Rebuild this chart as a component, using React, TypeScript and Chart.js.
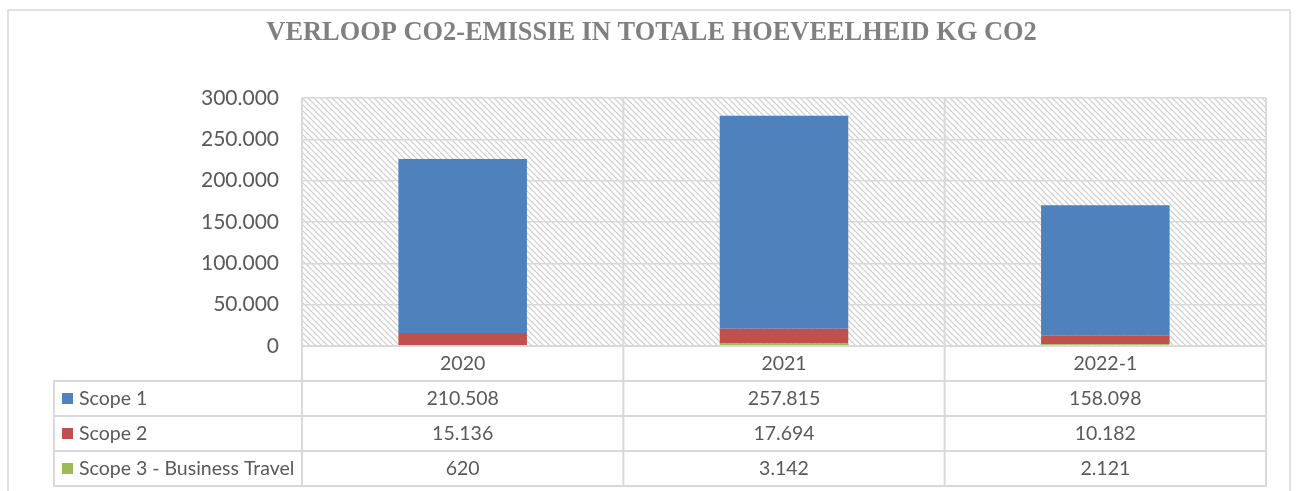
import React, { useEffect, useRef } from 'react';
import { Chart, registerables } from 'chart.js';

Chart.register(...registerables);

const TITLE = 'VERLOOP CO2-EMISSIE IN TOTALE HOEVEELHEID KG CO2';
const categories = ['2020', '2021', '2022-1'];
const seriesNames = ['Scope 1', 'Scope 2', 'Scope 3 - Business Travel'];
const scope1 = [210508, 257815, 158098];
const scope2 = [15136, 17694, 10182];
const scope3 = [620, 3142, 2121];
const seriesColors = ['#4F81BD', '#C0504D', '#9BBB59'];
const yMin = 0;
const yMax = 300000;
const yStep = 50000;

const LINE = '#D9D9D9';
const TEXT = '#595959';
const ROW_H = 35;
const TABLE_LEFT = 54;

const fmt = (v: number) => String(Math.round(v)).replace(/\B(?=(\d{3})+(?!\d))/g, '.');

let hatch: CanvasPattern | null = null;
function getHatch(ctx: CanvasRenderingContext2D) {
  if (hatch) return hatch;
  const c = document.createElement('canvas');
  c.width = 6;
  c.height = 6;
  const g = c.getContext('2d')!;
  g.fillStyle = '#FFFFFF';
  g.fillRect(0, 0, 6, 6);
  g.strokeStyle = '#CCCCCC';
  g.lineWidth = 1.2;
  g.beginPath();
  g.moveTo(-1, -1);
  g.lineTo(7, 7);
  g.moveTo(-1, 5);
  g.lineTo(1, 7);
  g.moveTo(5, -1);
  g.lineTo(7, 1);
  g.stroke();
  hatch = ctx.createPattern(c, 'repeat');
  return hatch;
}

const decor = {
  id: 'decor',
  beforeDraw(chart: any) {
    const { ctx, chartArea: a } = chart;
    ctx.save();
    ctx.fillStyle = '#FFFFFF';
    ctx.fillRect(0, 0, chart.width, chart.height);
    ctx.strokeStyle = LINE;
    ctx.lineWidth = 1.5;
    ctx.strokeRect(8, 10, chart.width - 15, chart.height + 20);
    const p = getHatch(ctx);
    if (p) {
      ctx.fillStyle = p;
      ctx.fillRect(a.left, a.top, a.right - a.left, a.bottom - a.top);
    }
    ctx.font = 'bold 26.4px "Liberation Serif"';
    ctx.fillStyle = '#808080';
    ctx.textAlign = 'center';
    ctx.textBaseline = 'middle';
    ctx.fillText(TITLE, chart.width / 2 + 3, 33);
    ctx.restore();
  },
  afterDraw(chart: any) {
    const { ctx, chartArea: a } = chart;
    const xs = chart.scales.x;
    const n = categories.length;
    const bounds: number[] = [a.left];
    for (let i = 0; i < n - 1; i++) {
      bounds.push((xs.getPixelForValue(i) + xs.getPixelForValue(i + 1)) / 2);
    }
    bounds.push(a.right);
    const top = a.bottom;
    const rows = [scope1, scope2, scope3];
    const bottom = top + ROW_H * (rows.length + 1);
    ctx.save();
    ctx.strokeStyle = LINE;
    ctx.lineWidth = 2;
    ctx.beginPath();
    for (const b of bounds) {
      ctx.moveTo(b, a.top);
      ctx.lineTo(b, bottom);
    }
    ctx.moveTo(TABLE_LEFT, top + ROW_H);
    ctx.lineTo(TABLE_LEFT, bottom);
    for (let r = 1; r <= rows.length + 1; r++) {
      const y = top + ROW_H * r;
      ctx.moveTo(TABLE_LEFT - 1, y);
      ctx.lineTo(a.right + 1, y);
    }
    ctx.moveTo(a.left, top);
    ctx.lineTo(a.right, top);
    ctx.stroke();

    ctx.fillStyle = TEXT;
    ctx.font = '19.5px Lato';
    ctx.textBaseline = 'middle';
    ctx.textAlign = 'center';
    categories.forEach((c, i) => {
      ctx.fillText(c, xs.getPixelForValue(i), top + ROW_H / 2);
    });
    rows.forEach((vals, r) => {
      const yc = top + ROW_H * (r + 1) + ROW_H / 2;
      ctx.textAlign = 'center';
      ctx.fillStyle = TEXT;
      vals.forEach((v, i) => ctx.fillText(fmt(v), xs.getPixelForValue(i), yc));
      ctx.fillStyle = seriesColors[r];
      ctx.fillRect(TABLE_LEFT + 8, yc - 5.5, 11, 11);
      ctx.fillStyle = TEXT;
      ctx.textAlign = 'left';
      ctx.fillText(seriesNames[r], TABLE_LEFT + 25, yc);
    });
    ctx.restore();
  },
};

export default function App() {
  const ref = useRef<HTMLCanvasElement | null>(null);
  useEffect(() => {
    if (!ref.current) return;
    const allSeries = [scope1, scope2, scope3];
    // stacked bottom-first: Scope 3, Scope 2, Scope 1
    const datasets = [2, 1, 0].map((k) => ({
      label: seriesNames[k],
      data: allSeries[k],
      backgroundColor: seriesColors[k],
      borderWidth: 0,
      barPercentage: 1,
      categoryPercentage: 0.4,
    }));
    const chart = new Chart(ref.current, {
      type: 'bar',
      data: { labels: categories, datasets },
      plugins: [decor],
      options: {
        responsive: false,
        animation: false,
        layout: { padding: { left: 0, right: 31, top: 98, bottom: 145 } },
        plugins: { legend: { display: false }, tooltip: { enabled: false }, title: { display: false } },
        scales: {
          x: { stacked: true, display: false },
          y: {
            stacked: true,
            min: yMin,
            max: yMax,
            ticks: {
              stepSize: yStep,
              padding: 23,
              color: TEXT,
              font: { family: 'Lato', size: 21 },
              callback: (v: any) => fmt(Number(v)),
            },
            grid: { color: LINE, lineWidth: 1.5, drawTicks: false },
            border: { display: false },
            afterFit: (s: any) => {
              s.width = 302;
            },
          },
        },
      },
    });
    return () => chart.destroy();
  }, []);
  return (
    <div style={{ position: 'absolute', left: 0, top: 0, width: 1297, height: 491 }}>
      <canvas ref={ref} width={1297} height={491} style={{ display: 'block' }} />
    </div>
  );
}
